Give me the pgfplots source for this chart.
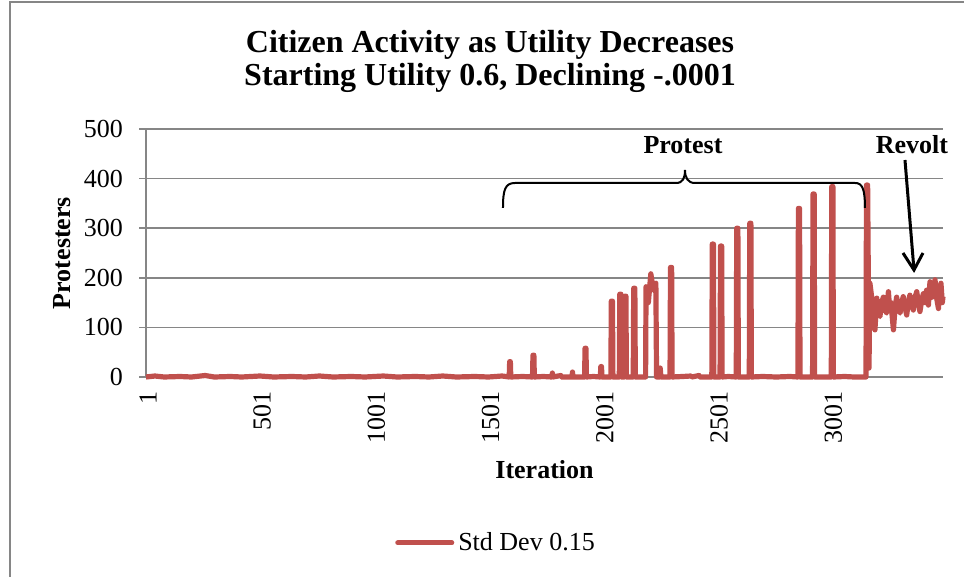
\documentclass[border=0pt]{standalone}
\usepackage{fontspec}
\setmainfont{Liberation Serif}
\usepackage{pgfplots}
\pgfplotsset{compat=1.18}

\definecolor{serred}{RGB}{192,80,77}
\definecolor{axgray}{RGB}{134,134,134}

\newcommand{\txt}{\fontsize{13bp}{15.6bp}\selectfont}

\begin{document}
\begin{tikzpicture}
\path[use as bounding box] (0bp,0bp) rectangle (482bp,288.5bp);

\begin{axis}[
    at={(73bp,100bp)}, anchor=south west,
    scale only axis,
    width=398.5bp, height=124bp,
    xmin=1, xmax=3490,
    ymin=0, ymax=500,
    xtick={1,501,1001,1501,2001,2501,3001},
    ytick={0,100,200,300,400,500},
    ymajorgrids,
    grid style={axgray, line width=0.8bp},
    axis x line*=bottom,
    axis y line*=left,
    axis line style={axgray, line width=0.8bp},
    tick align=outside,
    major tick length=3.5bp,
    x tick style={draw=none},
    y tick style={axgray, line width=0.8bp},
    /pgf/number format/assume math mode=true,
    /pgf/number format/set thousands separator={},
    tick label style={font=\txt, black},
    xticklabel style={rotate=90, anchor=east, yshift=-1bp},
    yticklabel style={xshift=-4.5bp},
    xlabel={\bfseries Iteration},
    ylabel={\bfseries Protesters},
    label style={font=\txt},
    xlabel style={at={(axis description cs:0.5,-0.375)}, anchor=center},
    ylabel style={at={(axis description cs:-0.1054,0.5)}, anchor=center},
    legend style={at={(axis description cs:0.4404,-0.669)}, anchor=center,
        draw=none, font=\txt, fill=none},
    legend image code/.code={\draw[serred, line width=2.5bp, line cap=round] (0bp,0bp) -- (27bp,0bp);},
    clip=false,
]
\addplot[serred, line width=2.6bp, line join=round] coordinates {
(1,0) (40,2) (80,0) (150,1) (200,0) (260,3) (300,0) (370,1) (420,0)
(500,2) (560,0) (640,1) (700,0) (760,2) (820,0) (900,1) (960,0)
(1040,2) (1100,0) (1180,1) (1240,0) (1300,2) (1360,0) (1440,1)
(1500,0) (1560,2) (1591,0) (1593,31) (1596,31) (1598,0) (1650,1) (1693,0)
(1695,44) (1699,44) (1701,0) (1740,1) (1778,0) (1780,8) (1782,0) (1817,3)
(1819,0) (1866,0) (1868,10) (1870,0) (1921,0) (1923,58) (1927,58) (1929,0)
(1960,1) (1990,0) (1992,21) (1995,21) (1997,0) (2036,0) (2038,153) (2043,153) (2045,0)
(2073,0) (2075,167) (2080,167) (2082,0) (2095,0) (2097,163) (2102,163) (2104,0) (2134,0)
(2136,179) (2141,179) (2143,0) (2188,0) (2190,182) (2200,150) (2211,208)
(2222,175) (2233,189) (2236,0) (2250,0) (2252,18) (2255,0) (2295,0)
(2297,221) (2302,221) (2304,0) (2350,1) (2387,2) (2390,0) (2422,3) (2425,0)
(2478,0) (2480,268) (2485,268) (2487,0) (2514,0) (2516,264) (2521,264) (2523,0) (2550,1)
(2585,0) (2587,300) (2592,300) (2594,0) (2642,0) (2644,310) (2649,310) (2651,0) (2700,1)
(2760,0) (2820,1) (2855,0) (2857,340) (2862,340) (2864,0) (2919,0) (2921,369) (2926,369)
(2928,0) (3001,0) (3003,384) (3008,384) (3010,0) (3060,1) (3100,0) (3153,0)
(3155,387) (3160,387) (3166,18) (3170,189) (3181,149) (3192,95) (3200,159)
(3207,130) (3214,122) (3221,150) (3229,161) (3236,135) (3243,129)
(3251,172) (3256,140) (3262,150) (3273,95) (3280,140) (3287,161)
(3294,140) (3302,129) (3309,150) (3316,162) (3324,140) (3331,125)
(3338,150) (3345,165) (3353,145) (3360,135) (3367,160) (3375,172)
(3382,150) (3389,132) (3397,155) (3404,168) (3411,150) (3418,175)
(3426,145) (3433,192) (3440,160) (3448,165) (3455,196) (3462,160)
(3470,138) (3477,180) (3481,189) (3487,150) (3490,162)
};
\addlegendentry{Std Dev 0.15}
\end{axis}

% overlay in reference pixel coordinates (origin top-left)
\begin{scope}[x=0.5bp, y=-0.5bp, yshift=288.5bp]
\draw[axgray, line width=0.8bp] (10,577) -- (10,2) -- (964,2);
\node[align=center, font=\fontsize{16bp}{16.5bp}\selectfont\bfseries] at (490,61)
  {Citizen Activity as Utility Decreases\\Starting Utility 0.6, Declining -.0001};
\node[font=\txt\bfseries] at (683,145) {Protest};
\node[font=\txt\bfseries] at (912,145) {Revolt};
\draw[black, line width=1bp]
  (503,208) .. controls (503,190) and (505,183) .. (515,183) -- (676,183)
  .. controls (683,183) and (685,178) .. (685,170)
  .. controls (685,178) and (688,183) .. (695,183) -- (855,183)
  .. controls (862,183) and (865,188) .. (865,208);
\draw[black, line width=1.5bp] (905,160) -- (914,270);
\draw[black, line width=1.5bp] (903,253) -- (914,270) -- (923,253);
\end{scope}
\end{tikzpicture}
\end{document}
